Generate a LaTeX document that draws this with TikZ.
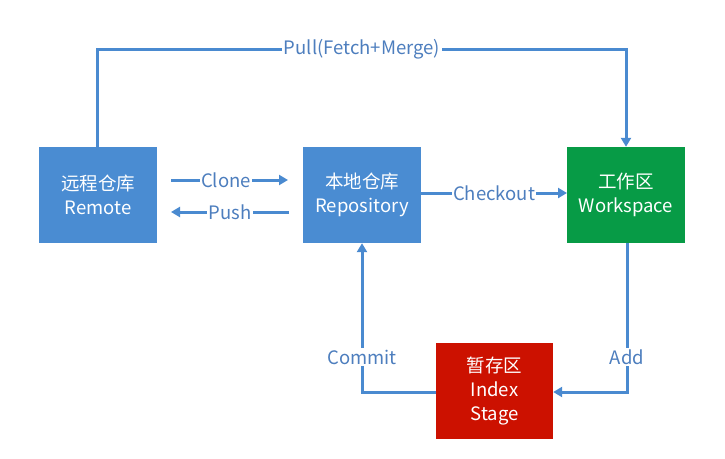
\documentclass[tikz,border=0pt]{standalone}
\usepackage{fontspec}
\setmainfont{Noto Sans CJK SC}
\usetikzlibrary{arrows.meta}
\definecolor{boxblue}{HTML}{4A8CD2}
\definecolor{boxgreen}{HTML}{079B46}
\definecolor{boxred}{HTML}{CC1100}
\definecolor{linkblue}{HTML}{4A8AD0}
\definecolor{labelblue}{HTML}{4D7EBE}
\tikzset{
  box/.style={minimum width=118pt, minimum height=96pt, inner sep=0pt, text=white, align=center, font=\fontsize{18.5}{24}\selectfont},
  link/.style={draw=linkblue, line width=3pt, -{Triangle[length=9pt,width=10pt]}},
  lbl/.style={fill=white, text=labelblue, inner sep=1.5pt, font=\fontsize{18.5}{20}\selectfont},
}
\begin{document}
\begin{tikzpicture}[x=1pt,y=-1pt]
\useasboundingbox (0,0) rectangle (725,458);
\fill[white] (0,0) rectangle (725,458);
\node[box, fill=boxblue] (remote) at (98,195) {远程仓库\\Remote};
\node[box, fill=boxblue] (repo) at (362,195) {本地仓库\\Repository};
\node[box, fill=boxgreen] (work) at (626,195) {工作区\\Workspace};
\node[box, fill=boxred, minimum width=117pt] (index) at (494.5,391) {暂存区\\Index\\Stage};
% pull
\coordinate (pl) at (97,49);
\coordinate (pr) at (626,49);
\draw[link] (remote.north -| pl) -- (pl) -- (pr) -- (work.north -| pr);
\node[lbl] (pull) at (362,49) {Pull(Fetch+Merge)};
% clone / push
\coordinate (cs) at (171,180);
\coordinate (ce) at (288,180);
\draw[link] (cs) -- (ce);
\node[lbl] (clone) at (226,180) {Clone};
\coordinate (ps) at (289,212);
\coordinate (pe) at (171,212);
\draw[link] (ps) -- (pe);
\node[lbl] (push) at (230,212) {Push};
% checkout
\coordinate (ke) at (567,193);
\draw[link] (repo.east |- ke) -- (ke);
\node[lbl] (checkout) at (494,193) {Checkout};
% commit
\coordinate (cm) at (362,392);
\draw[link] (index.west |- cm) -- (cm) -- (repo.south);
\node[lbl] (commit) at (362,357) {Commit};
% add
\coordinate (ad) at (627,392);
\draw[link] (work.south -| ad) -- (ad) -- (index.east |- ad);
\node[lbl] (add) at (627,357) {Add};
\end{tikzpicture}
\end{document}
